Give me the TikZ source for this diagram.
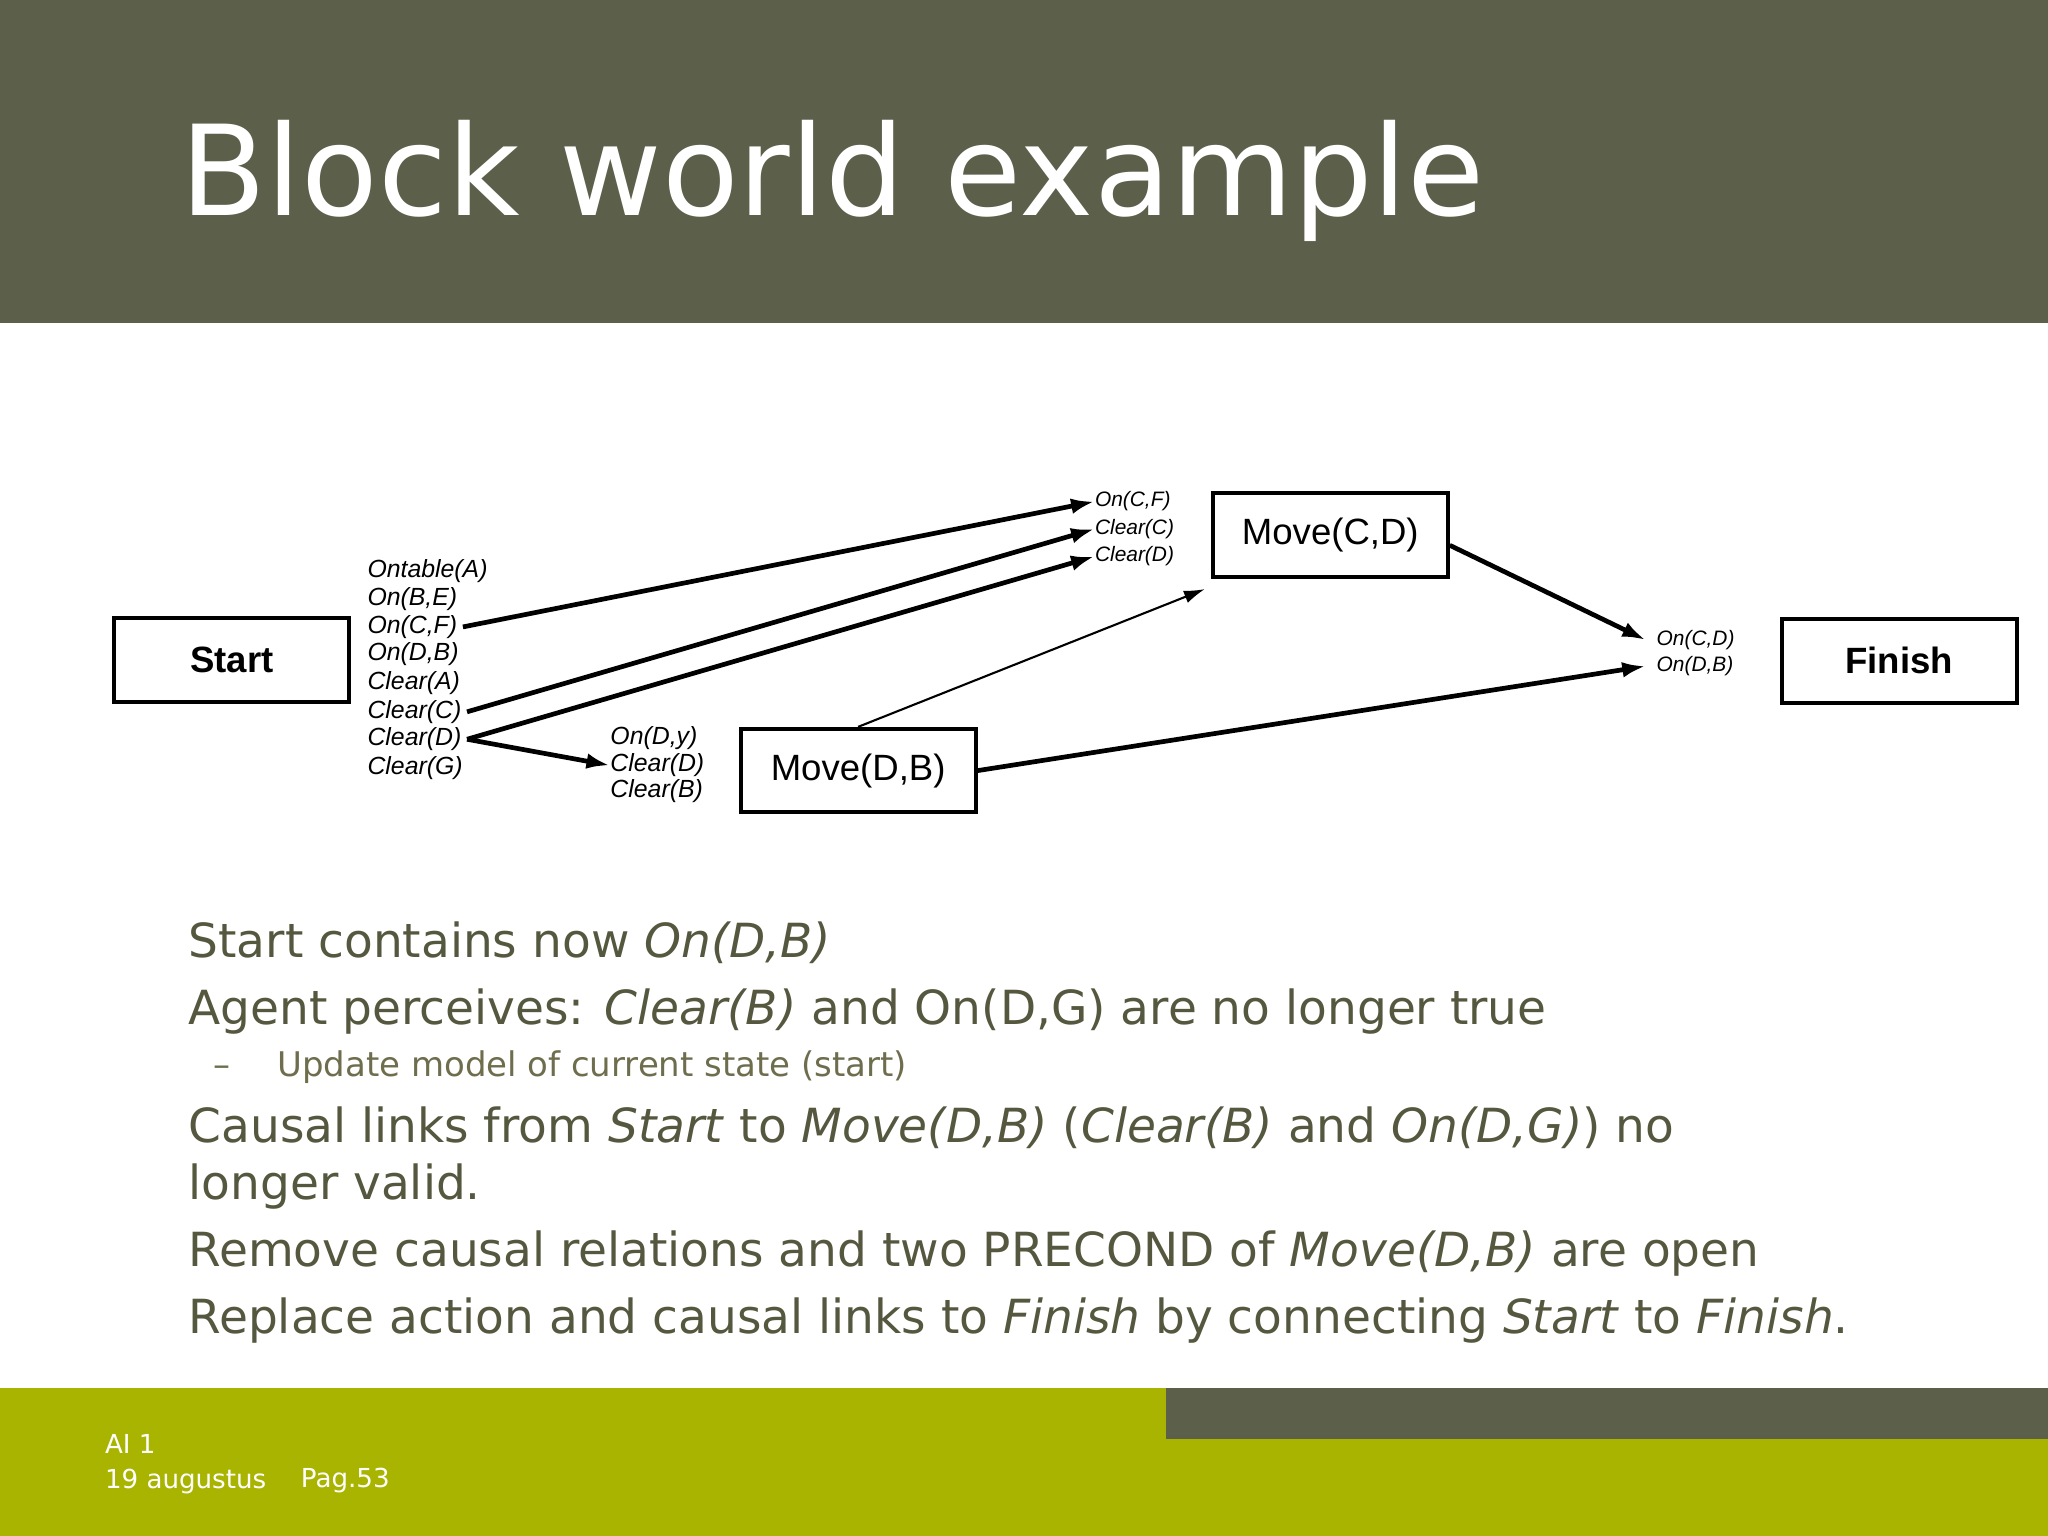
\documentclass[tikz,border=0pt]{standalone}
\usepackage{fontspec}
\setmainfont{DejaVu Sans}
\newfontfamily\lab{Liberation Sans}
\usetikzlibrary{arrows.meta}
\definecolor{hdr}{HTML}{5C5F4A}
\definecolor{olv}{HTML}{A8B400}
\definecolor{txt}{HTML}{55583F}
\definecolor{sub}{HTML}{6E6E4E}
\begin{document}
\begin{tikzpicture}[x=0.5pt,y=-0.5pt,
  box/.style={draw=black,line width=1.5pt,minimum width=90pt,minimum height=32pt,inner sep=0pt},
  lb/.style={font=\lab\itshape\fontsize{9.5}{10}\selectfont,anchor=west,inner sep=0pt},
  sl/.style={font=\lab\itshape\fontsize{8}{9}\selectfont,anchor=west,inner sep=0pt},
  arr/.style={line width=1.8pt,-{Latex[length=9pt,width=6pt]}},
  body/.style={anchor=base west,inner sep=0pt,text=txt,font=\fontsize{18}{20}\selectfont},
  foot/.style={anchor=base west,inner sep=0pt,text=white,font=\fontsize{10}{12}\selectfont}]
\useasboundingbox (0,0) rectangle (1568,1176);
\fill[white] (0,0) rectangle (1568,1176);
\fill[hdr] (0,0) rectangle (1568,247);
\node[anchor=base west,inner sep=0pt,text=white,font=\fontsize{48}{50}\selectfont] (title) at (138,165) {Block world example};
\fill[olv] (0,1063) rectangle (1568,1176);
\fill[hdr] (893,1063) rectangle (1568,1102);
\node[foot] (f1) at (80,1113) {AI 1};
\node[foot] (f2) at (80,1140) {19 augustus};
\node[foot] (f3) at (230,1139) {Pag.53};
% boxes
\node[box,font=\lab\bfseries\fontsize{14}{14}\selectfont] (start) at (177.5,505.5) {Start};
\node[box,font=\lab\fontsize{14}{14}\selectfont] (mcd) at (1018.5,409.5) {Move(C,D)};
\node[box,font=\lab\fontsize{14}{14}\selectfont] (mdb) at (657,590) {Move(D,B)};
\node[box,font=\lab\bfseries\fontsize{14}{14}\selectfont] (fin) at (1454,506) {Finish};
% start labels
\node[lb] (s1) at (281,437) {Ontable(A)};
\node[lb] (s2) at (281,459) {On(B,E)};
\node[lb] (s3) at (281,480) {On(C,F)};
\node[lb] (s4) at (281,501) {On(D,B)};
\node[lb] (s5) at (281,523) {Clear(A)};
\node[lb] (s6) at (281,545) {Clear(C)};
\node[lb] (s7) at (281,566) {Clear(D)};
\node[lb] (s8) at (281,588) {Clear(G)};
\node[sl] (c1) at (838,384) {On(C,F)};
\node[sl] (c2) at (838,405) {Clear(C)};
\node[sl] (c3) at (838,426) {Clear(D)};
\node[lb] (d1) at (467,565) {On(D,y)};
\node[lb] (d2) at (467,586) {Clear(D)};
\node[lb] (d3) at (467,606) {Clear(B)};
\node[sl] (g1) at (1268,490) {On(C,D)};
\node[sl] (g2) at (1268,510) {On(D,B)};
% arrows
\draw[arr] (s3.east) ++(4,0) -- (c1.west);
\draw[arr] (s6.east) ++(4,0) -- (c2.west);
\draw[arr] (s7.east) ++(4,0) -- (c3.west);
\draw[arr] (s7.east) ++(4,0) -- (d2.west);
\draw[line width=0.8pt,-{Latex[length=8pt,width=5pt]}] (mdb.north) -- ([xshift=-48pt,yshift=-4pt]mcd.south);
\draw[arr] ([yshift=-4pt]mcd.east) -- ([xshift=-4pt]g1.west);
\draw[arr] (mdb.east) -- ([xshift=-4pt]g2.west);
% body text
\node[body] (t1) at (144,733) {Start contains now \textit{On(D,B)}};
\node[body] (t2) at (144,784) {Agent perceives: \textit{Clear(B)} and On(D,G) are no longer true};
\node[anchor=base west,inner sep=0pt,text=sub,font=\fontsize{13}{14}\selectfont] (t3d) at (163,824) {–};
\node[anchor=base west,inner sep=0pt,text=sub,font=\fontsize{13}{14}\selectfont] (t3) at (212,824) {Update model of current state (start)};
\node[body] (t4) at (144,875) {Causal links from \textit{Start} to \textit{Move(D,B)} (\textit{Clear(B)} and \textit{On(D,G)}) no};
\node[body] (t5) at (144,918) {longer valid.};
\node[body] (t6) at (144,970) {Remove causal relations and two PRECOND of \textit{Move(D,B)} are open};
\node[body] (t7) at (144,1021) {Replace action and causal links to \textit{Finish} by connecting \textit{Start} to \textit{Finish}.};
\end{tikzpicture}
\end{document}
